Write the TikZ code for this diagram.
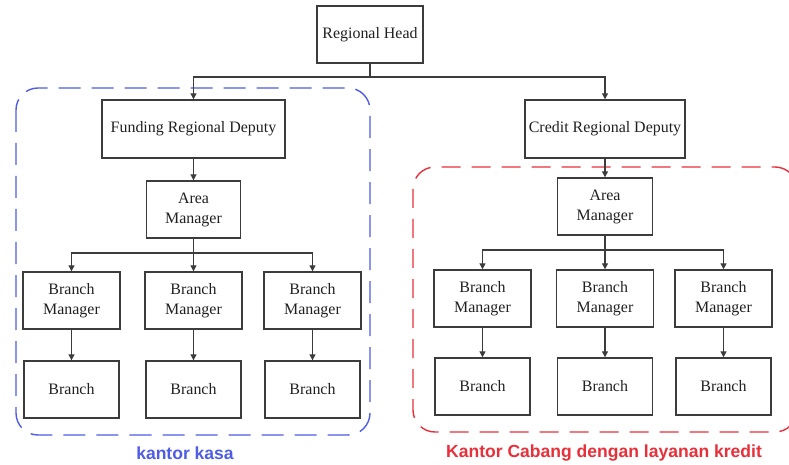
\documentclass[tikz,border=0pt]{standalone}
\usepackage{fontspec}
\setmainfont{Liberation Serif}
\newfontfamily\lsans{Liberation Sans}
\usetikzlibrary{arrows.meta,calc}
\definecolor{boxline}{HTML}{3C3C3C}
\definecolor{txt}{HTML}{202020}
\definecolor{kasablue}{HTML}{4F5DE4}
\definecolor{kredred}{HTML}{E8303A}
\tikzset{
  orgbox/.style={draw=boxline, line width=1.4bp, fill=white, text=txt, align=center,
    inner sep=0pt, font=\fontsize{16}{20}\selectfont},
  conn/.style={draw=boxline, line width=1.2bp},
  arr/.style={conn, -{Triangle[length=6bp,width=6bp]}},
  zone/.style={line width=1.4bp, rounded corners=22bp},
  zonelabel/.style={font=\lsans\bfseries\fontsize{17.6}{20}\selectfont, inner sep=0pt}
}
\begin{document}
\begin{tikzpicture}[x=1bp,y=-1bp]
\useasboundingbox (0,0) rectangle (789,465);
\fill[white] (0,0) rectangle (789,465);
\begin{scope}
\clip (0,0) rectangle (789,465);
\draw[zone, kasablue, dash pattern=on 22bp off 11bp] (16,88) rectangle (370,435);
\draw[zone, kredred, dash pattern=on 19bp off 11bp] (413,167) rectangle (797,432);
\end{scope}

\node[orgbox, minimum width=106bp, minimum height=57bp] (rh) at (370,34.5) {Regional Head};
\node[orgbox, minimum width=183bp, minimum height=58bp] (frd) at (193.5,129) {Funding Regional Deputy};
\node[orgbox, minimum width=160bp, minimum height=58bp] (crd) at (605,129) {Credit Regional Deputy};
\node[orgbox, minimum width=94bp, minimum height=57bp] (am1) at (193.5,209.5) {Area\\Manager};
\node[orgbox, minimum width=95bp, minimum height=57bp] (am2) at (605,206.5) {Area\\Manager};

\foreach \n/\x in {1/71.5,2/193.5,3/312.5}{
  \node[orgbox, minimum width=97bp, minimum height=57bp] (bm\n) at (\x,300.5) {Branch\\Manager};
  \node[orgbox, minimum width=95bp, minimum height=57bp] (b\n) at (\x,389.5) {Branch};
}
\foreach \n/\x in {4/482.5,5/605,6/723.5}{
  \node[orgbox, minimum width=97bp, minimum height=57bp] (bm\n) at (\x,298.5) {Branch\\Manager};
  \node[orgbox, minimum width=95bp, minimum height=57bp] (b\n) at (\x,386.5) {Branch};
}

\coordinate (j0) at (370,77);
\draw[conn] (rh.south) -- (j0);
\draw[arr] (j0) -| (frd.north);
\draw[arr] (j0) -| (crd.north);
\draw[arr] (frd.south) -- (am1.north);
\draw[arr] (crd.south) -- (am2.north);

\coordinate (j1) at (193.5,253);
\draw[conn] (am1.south) -- (j1);
\foreach \n in {1,2,3}{
  \draw[arr] (j1) -| (bm\n.north);
  \draw[arr] (bm\n.south) -- (b\n.north);
}
\coordinate (j2) at (605,250);
\draw[conn] (am2.south) -- (j2);
\foreach \n in {4,5,6}{
  \draw[arr] (j2) -| (bm\n.north);
  \draw[arr] (bm\n.south) -- (b\n.north);
}

\node[zonelabel, text=kasablue] (lk) at (185,453) {kantor kasa};
\node[zonelabel, text=kredred] (lr) at (604,453) {Kantor Cabang dengan layanan kredit};
\end{tikzpicture}
\end{document}
